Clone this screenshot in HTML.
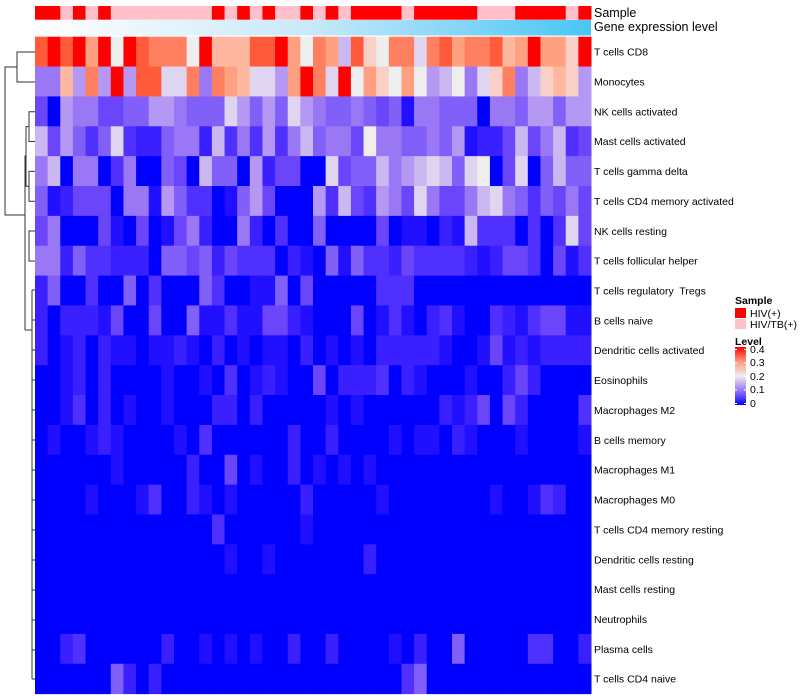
<!DOCTYPE html>
<html><head><meta charset="utf-8"><style>
html,body{margin:0;padding:0;background:#fff;}
svg{display:block;font-family:"Liberation Sans",sans-serif;}
#labels text{white-space:pre;}
</style></head><body>
<svg id="s" width="800" height="700" xmlns="http://www.w3.org/2000/svg">
<defs>
<linearGradient id="ge" x1="0" x2="1" y1="0" y2="0"><stop offset="0" stop-color="#ffffff"/><stop offset="0.5" stop-color="#c8e8f8"/><stop offset="1" stop-color="#48c6f6"/></linearGradient>
<linearGradient id="lv" x1="0" x2="0" y1="0" y2="1"><stop offset="0" stop-color="#ff0000"/><stop offset="0.25" stop-color="#ff9a80"/><stop offset="0.5" stop-color="#eeeeee"/><stop offset="0.75" stop-color="#9a78f8"/><stop offset="1" stop-color="#0000ff"/></linearGradient>
</defs>
<g id="cells"></g>
<rect x="35" y="20" width="556" height="15.5" fill="url(#ge)"/>
<text x="594" y="17" font-size="12.5">Sample</text>
<text x="594" y="31" font-size="12.5">Gene expression level</text>
<g id="labels" font-size="10.5"></g>
<g stroke="#333" stroke-width="1" fill="none">
<path d="M35 52H17V82H35M17 67H5V215H25"/>
<path d="M35 111.7H29V141.5H35M35 171.4H29V201.3H35M29 126.6H26V186.3H29M35 231H29V261H35M26 156H25V330"/>
<path d="M25 330H32M32 290V679M32 290H35M32 320H35M32 350H35M32 380H35M32 410H35M32 440H35M32 470H35M32 500H35M32 530H35M32 560H35M32 590H35M32 620H35M32 650H35M32 679H35"/>
</g>
<text x="735" y="304" font-size="10.5" font-weight="bold">Sample</text>
<rect x="735" y="308" width="11" height="10" fill="#ff0000"/>
<rect x="735" y="319" width="11" height="10" fill="#ffc0cb"/>
<text x="750" y="317" font-size="10.5">HIV(+)</text>
<text x="750" y="328" font-size="10.5">HIV/TB(+)</text>
<text x="735" y="345" font-size="10.5" font-weight="bold">Level</text>
<rect x="735" y="347" width="11" height="58" fill="url(#lv)"/>
<g stroke="#fff" stroke-width="1"><path d="M735 349.5h2M744 349.5h2M735 363h2M744 363h2M735 376.5h2M744 376.5h2M735 390h2M744 390h2M735 403.5h2M744 403.5h2"/></g>
<g font-size="10.5"><text x="750" y="353">0.4</text><text x="750" y="366">0.3</text><text x="750" y="380">0.2</text><text x="750" y="393">0.1</text><text x="750" y="407">0</text></g>
</svg>
<script>
var pal={'0':'#0000ff','1':'#2010ff','2':'#3a20ff','3':'#5030ff','4':'#6a45fa','5':'#8060f8','6':'#9a78f5','7':'#b498f3','8':'#ccb8f0','9':'#e0d5f0','a':'#eeeeee','b':'#f8d0c8','c':'#ffb8a0','d':'#ffa080','e':'#ff8060','f':'#ff5a3a','g':'#ff0000'};
function sp(l){var a=[];for(var i=0;i<44;i++)a.push('0');for(var k in l)a[k-1]=l[k];return a.join('');}
var rows=[
"fgfgdgagfeeeagcccffgdaed8fbaee9efdeefcdgddbg",
"66c7e7g7ff99e6edc997dge9gadbada78a69be68bcb7",
"40766445577655597575976556545166555066577577",
"8475359322566283637368566 4a6655657122484 6834".replace(/ /g,''),
"68066036005408550724400945586789859a04905855",
"51244406617533015740007384376496446896535464",
"46000410401462006203005000040110218333030394",
"66253322205545243330210515332433332124430413",
"25003005030005300115040000033300000000000000",
"20222140040051131144210004013102310032134411",
"20120211011210201011020101022222100141212222",
"00120200001001030121004022230210001002420000",
"00130201001000220200000101000000212404200003",
"01001210000103000000200200001011021000100001",
sp({7:'1',13:'2',16:'4',18:'1',21:'2',23:'1',25:'1',27:'1'}),
sp({5:'1',9:'1',10:'3',13:'2',14:'1',16:'1',22:'2',28:'1',37:'1',40:'1',41:'3',42:'2'}),
sp({15:'3',22:'1'}),
sp({16:'1',19:'1',27:'2'}),
sp({}),sp({}),
sp({3:'2',4:'3',11:'2',14:'1',16:'1',18:'1',21:'2',24:'2',29:'1',31:'2',34:'5',40:'3',41:'3',44:'2'}),
sp({7:'5',8:'2',10:'2',30:'3',31:'5'})
];
var names=["T cells CD8","Monocytes","NK cells activated","Mast cells activated","T cells gamma delta","T cells CD4 memory activated","NK cells resting","T cells follicular helper","T cells regulatory  Tregs","B cells naive","Dendritic cells activated","Eosinophils","Macrophages M2","B cells memory","Macrophages M1","Macrophages M0","T cells CD4 memory resting","Dendritic cells resting","Mast cells resting","Neutrophils","Plasma cells","T cells CD4 naive"];
var samp="RRPRPRPPPPPPPPRPRPRPPRPRPRRRRPRRRRRPPPRRRRPR";
var x0=35,cw=556/44,y0=36.7,rh=29.86,h='';
for(var j=0;j<44;j++){h+='<rect x="'+(x0+j*cw)+'" y="6" width="'+(cw+0.5)+'" height="13.7" fill="'+(samp[j]=='R'?'#ff0000':'#ffc0cb')+'"/>';}
for(var i=0;i<rows.length;i++){var r=rows[i];for(var j=0;j<44;j++){var c=pal[r[j]]||'#0000ff';h+='<rect x="'+(x0+j*cw)+'" y="'+(y0+i*rh)+'" width="'+(cw+0.5)+'" height="'+(rh+0.5)+'" fill="'+c+'"/>';}}
document.getElementById('cells').innerHTML=h;
var l='';for(var i=0;i<names.length;i++){l+='<text x="594" y="'+(y0+i*rh+rh/2+4)+'" xml:space="preserve">'+names[i]+'</text>';}
document.getElementById('labels').innerHTML=l;
</script>
</body></html>
